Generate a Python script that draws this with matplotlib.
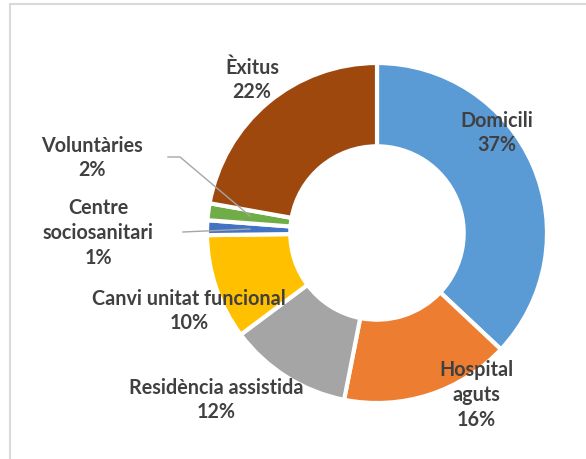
import matplotlib
matplotlib.use("Agg")
import matplotlib.pyplot as plt
from matplotlib.patches import Rectangle

categories = ["Domicili", "Hospital\naguts", "Residència assistida", "Canvi unitat funcional",
              "Centre\nsociosanitari", "Voluntàries", "Èxitus"]
values = [37.0, 16.1, 11.7, 10.0, 1.4, 1.6, 22.2]
pct_labels = ["37%", "16%", "12%", "10%", "1%", "2%", "22%"]
colors = ["#5B9BD5", "#ED7D31", "#A5A5A5", "#FFC000", "#4472C4", "#70AD47", "#9E480E"]

W, H = 586, 459
fig = plt.figure(figsize=(W / 100, H / 100), dpi=100)
fig.patch.set_facecolor("white")

# chart border
fig.patches.append(Rectangle((10 / W, -0.1), 1.2, 1 - 4 / H + 0.1, transform=fig.transFigure,
                             fill=False, edgecolor="#D9D9D9", lw=1.5))

cx, cy, R = 377, 233, 170
ax = fig.add_axes([(cx - R) / W, (H - cy - R) / H, 2 * R / W, 2 * R / H])
ax.pie(values, colors=colors, startangle=90, counterclock=False, radius=1,
       wedgeprops=dict(width=0.49, edgecolor="white", linewidth=3))
ax.set_xlim(-1, 1)
ax.set_ylim(-1, 1)
ax.set_aspect("equal")
ax.axis("off")

def to_data(px, py):
    return (px - cx) / R, (cy - py) / R

# label centres in pixel space of the reference
label_pos = [(497, 133), (476, 395), (216, 400), (189, 311), (98, 233), (92, 158), (252, 80)]

font = dict(family=["Lato", "DejaVu Sans"], fontweight="bold", color="#404040", fontsize=14.2)
for cat, p, (px, py) in zip(categories, pct_labels, label_pos):
    x, y = to_data(px, py)
    ax.text(x, y, f"{cat}\n{p}", ha="center", va="center", clip_on=False,
            linespacing=1.3, **font)

# leader lines
for pts in [[(168, 157), (180, 157), (250, 216)], [(183, 232), (250, 229)]]:
    xs, ys = zip(*[to_data(a, b) for a, b in pts])
    ax.plot(xs, ys, color="#A6A6A6", lw=1, clip_on=False)

fig.savefig("out.png", dpi=100)
